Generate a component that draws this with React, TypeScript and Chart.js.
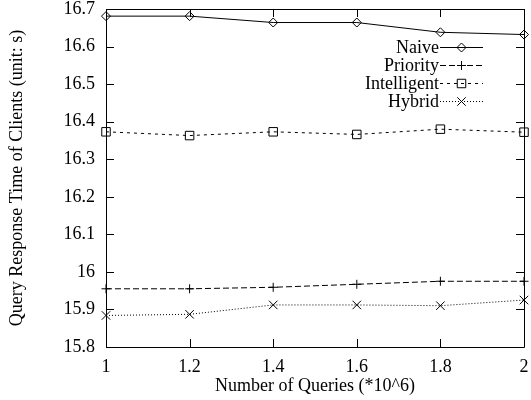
import React, { useEffect, useRef } from 'react';
import { Chart, registerables } from 'chart.js';
import { drawPoint } from 'chart.js/helpers';

Chart.register(...registerables);

const queries = [1, 1.2, 1.4, 1.6, 1.8, 2];
const naive = [16.681, 16.681, 16.664, 16.664, 16.638, 16.632];
const priority = [15.955, 15.955, 15.959, 15.967, 15.975, 15.975];
const intelligent = [16.373, 16.363, 16.373, 16.366, 16.38, 16.372];
const hybrid = [15.884, 15.887, 15.912, 15.912, 15.91, 15.925];

const xTicks = [1, 1.2, 1.4, 1.6, 1.8, 2];
const yTicks = [15.8, 15.9, 16, 16.1, 16.2, 16.3, 16.4, 16.5, 16.6, 16.7];

const seriesNames = ['Naive', 'Priority', 'Intelligent', 'Hybrid'];
const xTitle = 'Number of Queries (*10^6)';
const yTitle = 'Query Response Time of Clients (unit: s)';

const FONT = 'Liberation Serif, Times New Roman, serif';

const styles = [
  { pointStyle: 'rectRot', radius: 4.5, dash: [] as number[] },
  { pointStyle: 'cross', radius: 4.5, dash: [6, 3] },
  { pointStyle: 'rect', radius: 6, dash: [3, 4] },
  { pointStyle: 'crossRot', radius: 6, dash: [1, 2] },
];

const framePlugin = {
  id: 'gnuplotFrame',
  afterDraw(chart: any) {
    const { ctx, chartArea } = chart;
    const { left, right, top, bottom } = chartArea;
    const xs = chart.scales.x;
    const ys = chart.scales.y;
    const tl = 8;
    ctx.save();
    ctx.strokeStyle = '#000';
    ctx.lineWidth = 1;
    ctx.setLineDash([]);
    ctx.beginPath();
    ctx.rect(Math.round(left) + 0.5, Math.round(top) + 0.5, Math.round(right - left), Math.round(bottom - top));
    for (const v of yTicks) {
      const y = Math.round(ys.getPixelForValue(v)) + 0.5;
      ctx.moveTo(left, y);
      ctx.lineTo(left + tl, y);
      ctx.moveTo(right, y);
      ctx.lineTo(right - tl, y);
    }
    for (const v of xTicks) {
      const x = Math.round(xs.getPixelForValue(v)) + 0.5;
      ctx.moveTo(x, bottom);
      ctx.lineTo(x, bottom - tl);
      ctx.moveTo(x, top);
      ctx.lineTo(x, top + tl);
    }
    ctx.stroke();

    // legend
    const textRight = right - 85;
    const lineStart = right - 84;
    const lineEnd = right - 41;
    ctx.font = `18px ${FONT}`;
    ctx.textAlign = 'right';
    ctx.textBaseline = 'middle';
    seriesNames.forEach((name, i) => {
      const y = top + 38 + i * 18;
      ctx.fillStyle = '#000';
      ctx.fillText(name, textRight, y + 1);
      const st = styles[i];
      ctx.setLineDash(st.dash);
      ctx.beginPath();
      ctx.moveTo(lineStart, Math.round(y) + 0.5);
      ctx.lineTo(lineEnd, Math.round(y) + 0.5);
      ctx.stroke();
      ctx.setLineDash([]);
      ctx.fillStyle = 'rgba(0,0,0,0)';
      drawPoint(ctx, { pointStyle: st.pointStyle as any, radius: st.radius, rotation: 0, borderWidth: 1 }, (lineStart + lineEnd) / 2, Math.round(y) + 0.5);
    });
    ctx.restore();
  },
};

export default function App() {
  const ref = useRef<HTMLCanvasElement | null>(null);

  useEffect(() => {
    document.body.style.margin = '0';
    const canvas = ref.current;
    if (!canvas) return;
    const datasetsData = [naive, priority, intelligent, hybrid];
    const chart = new Chart(canvas, {
      type: 'line',
      data: {
        datasets: datasetsData.map((vals, i) => ({
          label: seriesNames[i],
          data: queries.map((q, j) => ({ x: q, y: vals[j] })),
          borderColor: '#000',
          backgroundColor: '#fff',
          borderWidth: 1,
          borderDash: styles[i].dash,
          pointStyle: styles[i].pointStyle as any,
          pointRadius: styles[i].radius,
          pointBorderColor: '#000',
          pointBackgroundColor: 'rgba(255,255,255,0)',
          pointBorderWidth: 1,
          tension: 0,
          clip: false as any,
        })),
      },
      options: {
        animation: false,
        responsive: false,
        devicePixelRatio: 1,
        layout: { padding: { top: 9, right: 2, left: 0, bottom: 0 } },
        plugins: { legend: { display: false }, tooltip: { enabled: false } },
        scales: {
          x: {
            type: 'linear',
            min: 1,
            max: 2,
            grid: { display: false, drawTicks: false },
            border: { display: false },
            afterBuildTicks: (s: any) => {
              s.ticks = xTicks.map((v) => ({ value: v }));
            },
            afterFit: (s: any) => {
              s.height = 53;
              s.paddingLeft = 0;
              s.paddingRight = 0;
            },
            ticks: {
              autoSkip: false,
              maxRotation: 0,
              padding: 9,
              color: '#000',
              font: { family: FONT, size: 18 },
              callback: (v: any) => String(Math.round(Number(v) * 10) / 10),
            },
            title: {
              display: true,
              text: xTitle,
              color: '#000',
              font: { family: FONT, size: 18 },
              padding: { top: 0, bottom: 3 },
            },
          },
          y: {
            type: 'linear',
            min: 15.8,
            max: 16.7,
            grid: { display: false, drawTicks: false },
            border: { display: false },
            afterBuildTicks: (s: any) => {
              s.ticks = yTicks.map((v) => ({ value: v }));
            },
            afterFit: (s: any) => {
              s.width = 106;
              s.paddingTop = 0;
              s.paddingBottom = 0;
            },
            ticks: {
              autoSkip: false,
              padding: 11,
              color: '#000',
              font: { family: FONT, size: 18 },
              callback: (v: any) => String(Math.round(Number(v) * 10) / 10),
            },
            title: {
              display: true,
              text: yTitle,
              color: '#000',
              font: { family: FONT, size: 18 },
              padding: { top: 6, bottom: 0 },
            },
          },
        },
      },
      plugins: [framePlugin],
    });
    return () => chart.destroy();
  }, []);

  return (
    <div style={{ width: 531, height: 400 }}>
      <canvas ref={ref} width={531} height={400} style={{ width: 531, height: 400, display: 'block' }} />
    </div>
  );
}
